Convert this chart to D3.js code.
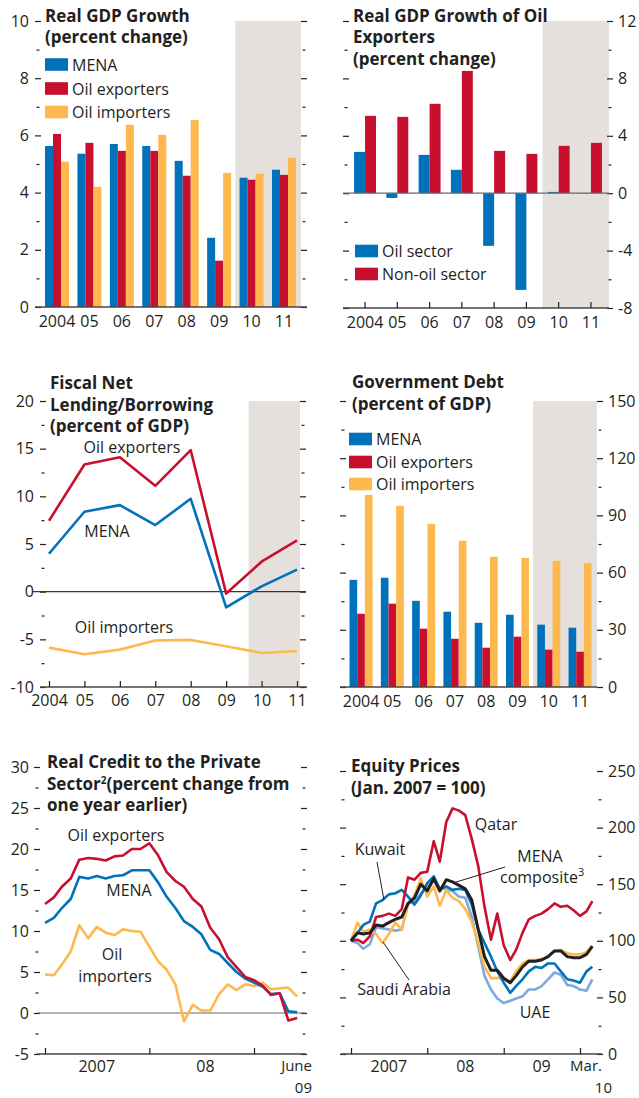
<!DOCTYPE html>
<html>
<head>
<meta charset="utf-8">
<script src="https://cdn.jsdelivr.net/npm/d3@7"></script>
<style>
body { margin: 0; background: #fff; }
svg text { font-family: "Open Sans", sans-serif; fill: #231f20; }
.title { font-weight: 700; font-size: 17px; }
.lbl { font-size: 16px; }
.axis text { font-size: 16px; }
</style>
</head>
<body>
<svg width="639" height="1098"></svg>
<script>
// categories
let years = ['2004', '05', '06', '07', '08', '09', '10', '11']

// Real GDP growth (percent change)
let gdpMena = [5.63, 5.36, 5.70, 5.63, 5.11, 2.42, 4.52, 4.80]
let gdpExporters = [6.05, 5.74, 5.46, 5.46, 4.59, 1.62, 4.45, 4.62]
let gdpImporters = [5.08, 4.20, 6.37, 6.02, 6.54, 4.69, 4.66, 5.22]

// Real GDP growth of oil exporters
let oilSector = [2.88, -0.33, 2.67, 1.63, -3.67, -6.74, 0.09, -0.02]
let nonOilSector = [5.39, 5.32, 6.23, 8.52, 2.95, 2.74, 3.30, 3.51]

// Fiscal net lending/borrowing (percent of GDP)
let fiscalExporters = [7.44, 13.34, 14.11, 11.1, 14.84, -0.2, 3.14, 5.38]
let fiscalMena = [3.98, 8.38, 9.08, 6.99, 9.74, -1.64, 0.56, 2.31]
let fiscalImporters = [-5.87, -6.57, -6.08, -5.13, -5.06, -5.73, -6.43, -6.22]

// Government debt (percent of GDP)
let debtMena = [56.2, 57.3, 45.2, 39.5, 33.7, 37.9, 32.7, 31.1]
let debtExporters = [38.4, 43.7, 30.6, 25.3, 20.6, 26.4, 19.6, 18.5]
let debtImporters = [100.8, 95.0, 85.6, 76.7, 68.3, 67.7, 66.2, 65.1]

// Real credit to the private sector, monthly Jan 2007 - Jun 2009
let creditMonths = d3.timeMonth.range(new Date(2007, 0, 1), new Date(2009, 6, 1))
let creditExporters = [13.3, 14.1, 15.4, 16.4, 18.7, 18.9, 18.8, 18.6, 19.1, 19.2, 20.0, 20.0, 20.7, 19.2, 17.2, 16.1, 15.4, 13.9, 13.0, 10.4, 9.0, 6.8, 5.6, 4.4, 4.0, 3.3, 2.2, 2.4, -0.9, -0.6]
let creditMena = [11.0, 11.6, 12.8, 13.9, 16.6, 16.4, 16.7, 16.4, 16.7, 16.8, 17.4, 17.4, 17.4, 15.9, 14.2, 12.8, 11.2, 10.5, 9.6, 7.7, 7.2, 6.1, 5.0, 4.2, 3.7, 3.2, 2.3, 2.4, 0.2, 0.1]
let creditImporters = [4.7, 4.6, 5.9, 7.5, 10.7, 9.1, 10.5, 9.8, 9.5, 10.2, 10.0, 9.9, 8.1, 6.3, 5.3, 3.5, -1.0, 1.0, 0.3, 0.3, 2.3, 3.5, 2.8, 3.5, 3.3, 3.7, 2.9, 3.0, 3.1, 2.0]

// Equity prices (Jan. 2007 = 100), monthly Jan 2007 - Mar 2010
let equityMonths = d3.timeMonth.range(new Date(2007, 0, 1), new Date(2010, 3, 1))
let qatar = [100, 101, 98, 104, 121, 122, 124, 122, 128, 156, 154, 160, 161, 188, 170, 205, 217, 215, 211, 190, 166, 130, 101, 124, 96, 83, 92, 107, 119, 122, 124, 128, 133, 130, 131, 127, 122, 126, 135]
let kuwait = [100, 107, 114, 117, 133, 136, 141, 142, 145, 139, 132, 140, 151, 157, 146, 148, 145, 146, 145, 132, 110, 98, 86, 73, 63, 54, 60, 66, 73, 77, 76, 80, 80, 73, 66, 65, 63, 73, 77]
let uae = [100, 98, 93, 97, 112, 111, 110, 109, 110, 133, 134, 142, 147, 153, 146, 146, 144, 139, 138, 121, 95, 69, 57, 49, 45, 47, 49, 51, 57, 57, 60, 66, 72, 70, 61, 60, 57, 56, 66]
let saudi = [100, 116, 108, 110, 106, 98, 106, 116, 110, 132, 140, 155, 139, 148, 131, 145, 138, 135, 128, 117, 98, 77, 67, 67, 67, 64, 73, 80, 83, 83, 84, 86, 91, 92, 89, 88, 88, 90, 96]
let menaComposite = [100, 107, 106, 107, 114, 113, 116, 119, 121, 133, 138, 150, 144, 155, 144, 154, 152, 149, 146, 136, 110, 86, 74, 74, 67, 63, 69, 77, 82, 82, 83, 86, 91, 91, 86, 85, 85, 88, 95]

const INK = '#231f20'
const BLUE = '#0072bc'
const RED = '#c8102e'
const YELLOW = '#fdb94e'
const LIGHTBLUE = '#7ea9dd'
const SHADE = '#e5e0db'

let svg = d3.select('svg')

function title(x, y, lines) {
    let t = svg.append('text').attr('class', 'title')
    lines.forEach((l, i) => {
        let ts = t.append('tspan').attr('x', x).attr('y', y + i * 21.5)
        if (Array.isArray(l)) {
            ts.text(l[0])
            ts.append('tspan').attr('font-size', 10).attr('dy', -6).text(l[1])
            ts.append('tspan').attr('dy', 6).text(l[2])
        } else ts.text(l)
    })
}

function label(x, y, txt, anchor) {
    return svg.append('text').attr('class', 'lbl')
        .attr('x', x).attr('y', y)
        .attr('text-anchor', anchor || 'start')
        .text(txt)
}

function yAxis(x, scale, side, major, minor, showLabels, pad) {
    let make = side === 'left' ? d3.axisLeft : d3.axisRight
    let g = svg.append('g').attr('class', 'axis').attr('color', INK)
        .attr('transform', `translate(${x},0)`)
        .call(make(scale).tickValues(major).tickSize(6).tickPadding(pad || 5)
            .tickFormat(showLabels ? (d => String(d)) : () => ''))
    g.select('.domain').remove()
    g.selectAll('line').attr('stroke-width', 1.2)
    let off = side === 'left' ? -1.5 : 1.5
    let m = svg.append('g').attr('color', INK)
        .attr('transform', `translate(${x + off},0)`)
        .call(make(scale).tickValues(minor).tickSize(3).tickFormat(() => ''))
    m.select('.domain').remove()
    m.selectAll('line').attr('stroke-width', 1.2)
}

function hline(x0, x1, y, w, color) {
    svg.append('line')
        .attr('x1', x0).attr('x2', x1).attr('y1', y).attr('y2', y)
        .attr('stroke', color || '#4a4546').attr('stroke-width', w || 1.5)
}

function bars(x, sub, y, series, colors) {
    series.forEach((vals, k) => {
        svg.append('g').selectAll('rect')
            .data(vals.map((v, i) => ({ cat: years[i], v: v })))
            .enter()
            .append('rect')
            .attr('x', d => x(d.cat) + sub(k))
            .attr('width', sub.bandwidth())
            .attr('y', d => Math.min(y(d.v), y(0)))
            .attr('height', d => Math.abs(y(d.v) - y(0)))
            .attr('fill', colors[k])
    })
}

function swatch(x, cy, color, txt) {
    svg.append('rect').attr('x', x).attr('y', cy - 6.3).attr('width', 23).attr('height', 12.6).attr('fill', color)
    label(x + 27, cy + 6, txt)
}

function xCats(x, yPos, pad, tickUp) {
    let g = svg.append('g').attr('class', 'axis').attr('color', INK)
        .attr('transform', `translate(0,${yPos})`)
        .call(d3.axisBottom(x).tickSizeInner(tickUp ? -6 : 0).tickSizeOuter(0).tickPadding(pad))
    g.select('.domain').remove()
    g.selectAll('line').attr('stroke-width', 1.2)
}

// ---------- Panel 1: Real GDP Growth
let y1 = d3.scaleLinear().domain([0, 10]).range([307, 21])
let x1 = d3.scaleBand().domain(years).range([40.8, 300.2]).paddingInner(0.26).paddingOuter(0.13)
let s1 = d3.scaleBand().domain([0, 1, 2]).range([0, x1.bandwidth()])

svg.append('rect')
    .attr('x', x1('10') - x1.step() * 0.13).attr('y', y1(10))
    .attr('width', 301 - (x1('10') - x1.step() * 0.13)).attr('height', y1(0) - y1(10))
    .attr('fill', SHADE)

bars(x1, s1, y1, [gdpMena, gdpExporters, gdpImporters], [BLUE, RED, YELLOW])
yAxis(41, y1, 'left', [0, 2, 4, 6, 8, 10], [1, 3, 5, 7, 9], true, 6)
yAxis(301, y1, 'right', [0, 2, 4, 6, 8, 10], [1, 3, 5, 7, 9], false)
hline(35, 307, y1(0))
xCats(x1, y1(0), 9, false)
title(45, 21.5, ['Real GDP Growth', '(percent change)'])
swatch(45, 64.5, BLUE, 'MENA')
swatch(45, 88.5, RED, 'Oil exporters')
swatch(45, 112, YELLOW, 'Oil importers')

// ---------- Panel 2: Real GDP Growth of Oil Exporters
let y2 = d3.scaleLinear().domain([-8, 12]).range([308, 21])
let x2 = d3.scaleBand().domain(years).range([348.9, 607.1]).paddingInner(0.32).paddingOuter(0.16)
let s2 = d3.scaleBand().domain([0, 1]).range([0, x2.bandwidth()])

let shade2 = x2('10') - (x2.step() - x2.bandwidth()) / 2
svg.append('rect')
    .attr('x', shade2).attr('y', y2(12))
    .attr('width', 609 - shade2).attr('height', y2(-8) - y2(12))
    .attr('fill', SHADE)

bars(x2, s2, y2, [oilSector, nonOilSector], [BLUE, RED])
yAxis(349, y2, 'left', [-8, -4, 0, 4, 8, 12], [-6, -2, 2, 6, 10], false)
yAxis(607, y2, 'right', [-8, -4, 0, 4, 8, 12], [-6, -2, 2, 6, 10], true, 5)
hline(343, 609, y2(0), 1.2, '#6d6767')
hline(343, 609, y2(-8))
xCats(x2, y2(-8), 9, true)
title(353, 21.5, ['Real GDP Growth of Oil', 'Exporters', '(percent change)'])
swatch(355, 251, BLUE, 'Oil sector')
swatch(355, 274, RED, 'Non-oil sector')

// ---------- Panel 3: Fiscal Net Lending/Borrowing
let y3 = d3.scaleLinear().domain([-10, 20]).range([687, 401])
let x3 = d3.scalePoint().domain(years).range([49, 297])

svg.append('rect')
    .attr('x', x3('10') - 13).attr('y', y3(20))
    .attr('width', x3('11') + 3 - (x3('10') - 13)).attr('height', y3(-10) - y3(20))
    .attr('fill', SHADE)

yAxis(46, y3, 'left', [-10, -5, 0, 5, 10, 15, 20], [-7.5, -2.5, 2.5, 7.5, 12.5, 17.5], true, 6)
yAxis(300, y3, 'right', [-10, -5, 0, 5, 10, 15, 20], [-7.5, -2.5, 2.5, 7.5, 12.5, 17.5], false)
hline(33, 306, y3(0), 1.2, '#3a3536')
hline(40, 307, y3(-10))
xCats(x3, y3(-10), 8, true)

let line3 = d3.line().x((d, i) => x3(years[i])).y(d => y3(d))
;[[fiscalImporters, YELLOW], [fiscalMena, BLUE], [fiscalExporters, RED]].forEach(([vals, c]) => {
    svg.append('path').datum(vals).attr('d', line3)
        .attr('fill', 'none').attr('stroke', c).attr('stroke-width', 2.6)
        .attr('stroke-linejoin', 'round')
})
title(50, 389, ['Fiscal Net', 'Lending/Borrowing', '(percent of GDP)'])
label(132, 453, 'Oil exporters', 'middle')
label(107, 537, 'MENA', 'middle')
label(124, 633, 'Oil importers', 'middle')

// ---------- Panel 4: Government Debt
let y4 = d3.scaleLinear().domain([0, 150]).range([687, 401])
let x4 = d3.scaleBand().domain(years).range([345.4, 595.7]).paddingInner(0.265).paddingOuter(0.1325)
let s4 = d3.scaleBand().domain([0, 1, 2]).range([0, x4.bandwidth()])

let shade4 = x4('10') - (x4.step() - x4.bandwidth()) / 2
svg.append('rect')
    .attr('x', shade4).attr('y', y4(150))
    .attr('width', 597 - shade4).attr('height', y4(0) - y4(150))
    .attr('fill', SHADE)

bars(x4, s4, y4, [debtMena, debtExporters, debtImporters], [BLUE, RED, YELLOW])
yAxis(346, y4, 'left', [0, 30, 60, 90, 120, 150], [15, 45, 75, 105, 135], false)
yAxis(597, y4, 'right', [0, 30, 60, 90, 120, 150], [15, 45, 75, 105, 135], true, 5)
hline(340, 597, y4(0))
xCats(x4, y4(0), 9, false)
title(352, 388, ['Government Debt', '(percent of GDP)'])
swatch(349, 439, BLUE, 'MENA')
swatch(349, 462, RED, 'Oil exporters')
swatch(349, 484, YELLOW, 'Oil importers')

// ---------- Panel 5: Real Credit to the Private Sector
let y5 = d3.scaleLinear().domain([-5, 30]).range([1054, 767])
let x5 = d3.scaleTime().domain([new Date(2007, 0, 1), new Date(2009, 0, 1)]).range([45, 254])

yAxis(40, y5, 'left', [-5, 0, 5, 10, 15, 20, 25, 30], [-2.5, 2.5, 7.5, 12.5, 17.5, 22.5, 27.5], true, 5)
yAxis(301, y5, 'right', [-5, 0, 5, 10, 15, 20, 25, 30], [-2.5, 2.5, 7.5, 12.5, 17.5, 22.5, 27.5], false)
hline(37, 306, y5(0), 1.2, '#6d6767')
hline(37, 306, y5(-5))
let ax5 = svg.append('g').attr('color', INK).attr('transform', `translate(0,${y5(-5)})`)
    .call(d3.axisBottom(x5).tickValues([new Date(2007, 0, 1), new Date(2008, 0, 1), new Date(2009, 0, 1)])
        .tickSizeInner(-6).tickSizeOuter(0).tickFormat(() => ''))
ax5.select('.domain').remove()
ax5.selectAll('line').attr('stroke-width', 1.2)

let line5 = d3.line().x((d, i) => x5(creditMonths[i])).y(d => y5(d))
;[[creditImporters, YELLOW], [creditMena, BLUE], [creditExporters, RED]].forEach(([vals, c]) => {
    svg.append('path').datum(vals).attr('d', line5)
        .attr('fill', 'none').attr('stroke', c).attr('stroke-width', 2.6)
        .attr('stroke-linejoin', 'round')
})
label(x5(new Date(2007, 6, 1)), 1072, '2007', 'middle')
label(x5(new Date(2008, 6, 15)), 1072, '08', 'middle')
label(312, 1071, 'June', 'end').style('font-size', '15px')
label(312, 1093, '09', 'end').style('font-size', '15px')
title(47, 768, ['Real Credit to the Private', ['Sector', '2', '(percent change from'], 'one year earlier)'])
label(116, 841, 'Oil exporters', 'middle')
label(129, 896, 'MENA', 'middle')
label(112, 960, 'Oil', 'middle')
label(115, 982, 'importers', 'middle')

// ---------- Panel 6: Equity Prices
let y6 = d3.scaleLinear().domain([0, 250]).range([1054, 771])
let x6 = d3.scaleTime().domain([new Date(2007, 0, 1), new Date(2010, 0, 1)]).range([351, 580])

yAxis(346, y6, 'left', [0, 50, 100, 150, 200, 250], [25, 75, 125, 175, 225], false)
yAxis(597, y6, 'right', [0, 50, 100, 150, 200, 250], [25, 75, 125, 175, 225], true, 5)
hline(341, 602, y6(0))
let ax6 = svg.append('g').attr('color', INK).attr('transform', `translate(0,${y6(0)})`)
    .call(d3.axisBottom(x6).tickValues([new Date(2007, 0, 1), new Date(2008, 0, 1), new Date(2009, 0, 1), new Date(2010, 0, 1)])
        .tickSizeInner(-6).tickSizeOuter(0).tickFormat(() => ''))
ax6.select('.domain').remove()
ax6.selectAll('line').attr('stroke-width', 1.2)

let line6 = d3.line().x((d, i) => x6(equityMonths[i])).y(d => y6(d))
;[[uae, LIGHTBLUE, 2.6], [saudi, YELLOW, 2.6], [kuwait, BLUE, 2.6], [qatar, RED, 2.6], [menaComposite, INK, 3]].forEach(([vals, c, w]) => {
    svg.append('path').datum(vals).attr('d', line6)
        .attr('fill', 'none').attr('stroke', c).attr('stroke-width', w)
        .attr('stroke-linejoin', 'round')
})
label(x6(new Date(2007, 6, 1)), 1072, '2007', 'middle')
label(x6(new Date(2008, 6, 1)), 1072, '08', 'middle')
label(x6(new Date(2009, 6, 1)), 1072, '09', 'middle')
label(602, 1071, 'Mar.', 'end').style('font-size', '15px')
label(612, 1093, '10', 'end').style('font-size', '15px')
title(351, 772, ['Equity Prices', '(Jan. 2007 = 100)'])

// annotations
label(496, 830, 'Qatar', 'middle')
label(380, 855, 'Kuwait', 'middle')
label(540, 862, 'MENA', 'middle')
let comp = label(500, 883, 'composite')
comp.append('tspan').attr('font-size', 11).attr('dy', -7).text('3')
label(404, 995, 'Saudi Arabia', 'middle')
label(535, 1018, 'UAE', 'middle')

let leaders = [[377, 862, 384, 900], [505, 867, 453, 883], [383, 942, 409, 980]]
leaders.forEach(([a, b, c, d]) => {
    svg.append('line').attr('x1', a).attr('y1', b).attr('x2', c).attr('y2', d)
        .attr('stroke', INK).attr('stroke-width', 1)
})
</script>
</body>
</html>
